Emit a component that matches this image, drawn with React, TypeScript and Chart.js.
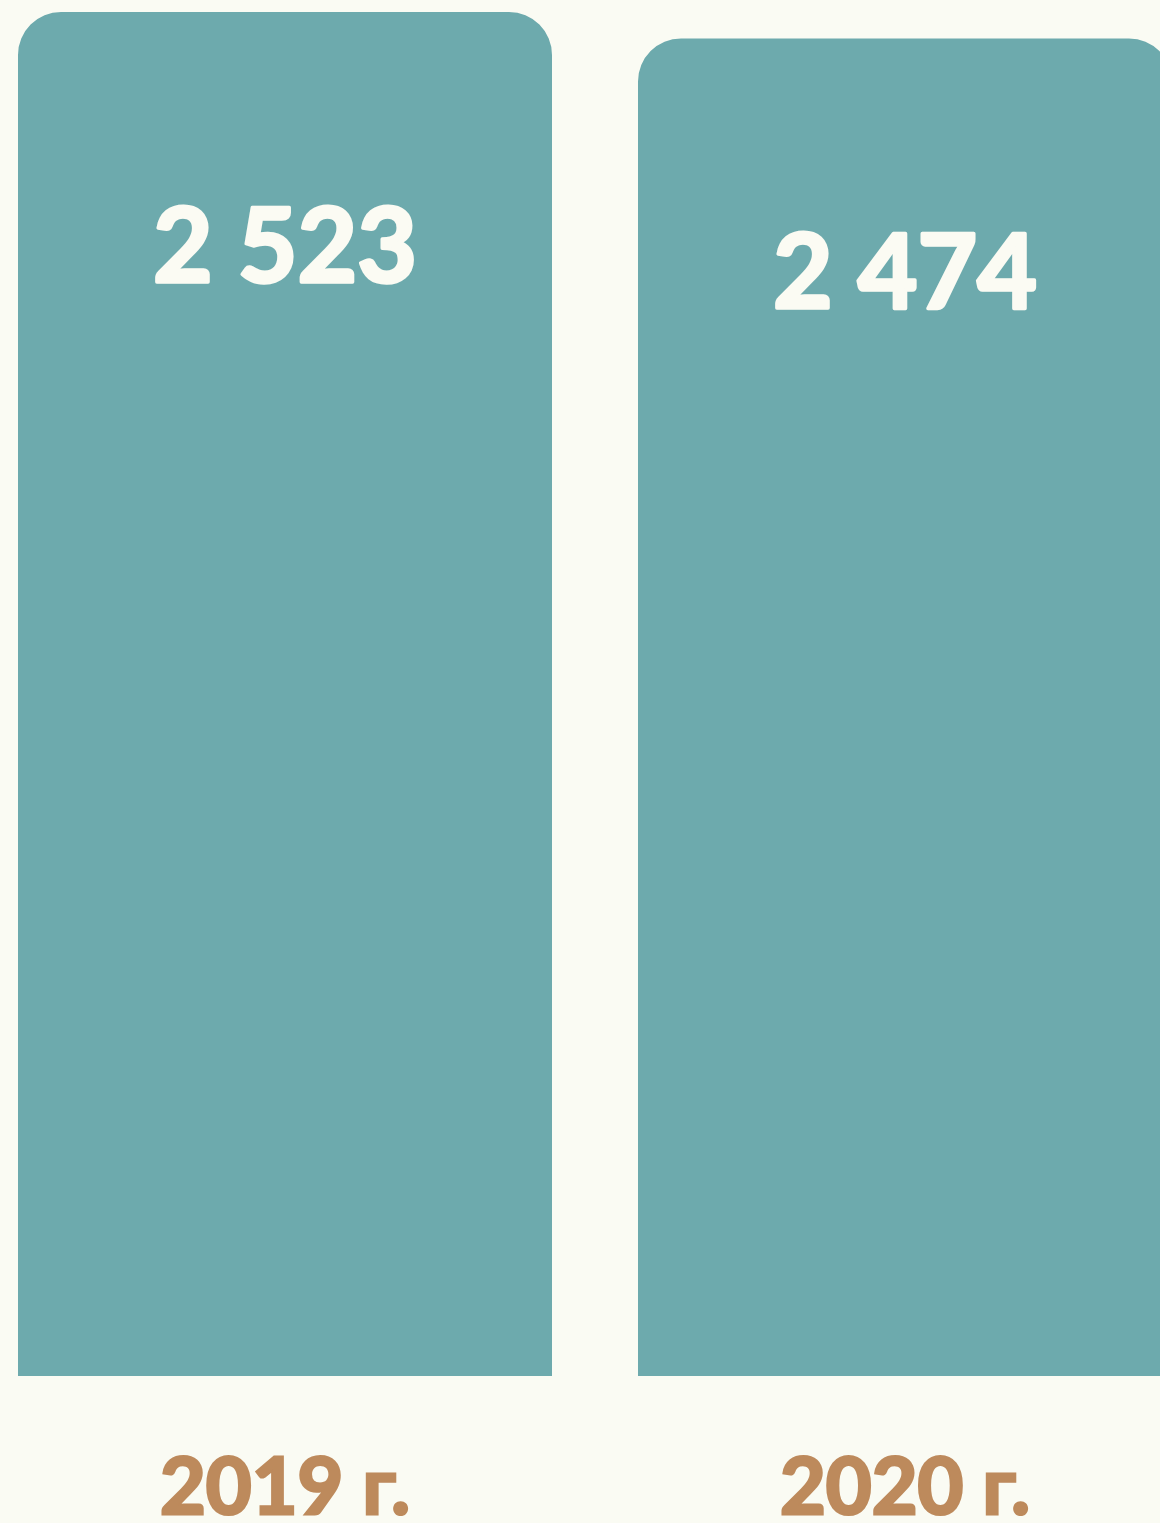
import React, { useEffect, useRef } from "react";
import { Chart, registerables } from "chart.js";

Chart.register(...registerables);

const categories: string[] = ["2019 г.", "2020 г."];
const values: number[] = [2523, 2474];
const valueLabels: string[] = ["2 523", "2 474"];
const yMin = 0;
const yMax = 2545;

const BG = "#fafbf3";
const BAR = "#6daaad";
const BROWN = "#bd8a5c";
const WHITE = "#fbfbf3";

const valueLabelPlugin = {
  id: "valueLabels",
  afterDatasetsDraw(chart: any) {
    const ctx = chart.ctx;
    const meta = chart.getDatasetMeta(0);
    ctx.save();
    ctx.font = "bold 103px Lato";
    ctx.fillStyle = WHITE;
    ctx.strokeStyle = WHITE;
    ctx.lineWidth = 3.5;
    ctx.lineJoin = "round";
    ctx.textAlign = "center";
    ctx.textBaseline = "alphabetic";
    meta.data.forEach((bar: any, i: number) => {
      ctx.fillText(valueLabels[i], bar.x, bar.y + 270);
      ctx.strokeText(valueLabels[i], bar.x, bar.y + 270);
    });
    ctx.restore();
  },
};

export default function App() {
  const ref = useRef<HTMLCanvasElement | null>(null);

  useEffect(() => {
    if (!ref.current) return;
    const chart = new Chart(ref.current, {
      type: "bar",
      data: {
        labels: categories,
        datasets: [
          {
            data: values,
            backgroundColor: BAR,
            borderWidth: 0,
            borderRadius: { topLeft: 43, topRight: 43, bottomLeft: 0, bottomRight: 0 },
            borderSkipped: "bottom",
            categoryPercentage: 1,
            barPercentage: 0.8613,
          },
        ],
      },
      options: {
        animation: false,
        responsive: false,
        maintainAspectRatio: false,
        layout: { padding: 0 },
        plugins: {
          legend: { display: false },
          tooltip: { enabled: false },
          title: { display: false },
        },
        scales: {
          y: {
            display: false,
            min: yMin,
            max: yMax,
          },
          x: {
            grid: { display: false, drawTicks: false },
            border: { display: false },
            ticks: {
              color: BROWN,
              textStrokeColor: BROWN,
              textStrokeWidth: 3,
              font: { family: "Lato", size: 79, weight: "bold" },
              padding: 65,
              maxRotation: 0,
              autoSkip: false,
            },
            afterFit(scale: any) {
              scale.height = 147;
            },
          },
        },
      },
      plugins: [valueLabelPlugin],
    });
    return () => chart.destroy();
  }, []);

  return (
    <div
      style={{
        position: "fixed",
        left: 0,
        top: 0,
        width: 1160,
        height: 1523,
        overflow: "hidden",
        background: BG,
      }}
    >
      <canvas
        ref={ref}
        width={1240}
        height={1523}
        style={{ position: "absolute", left: -25, top: 0, width: 1240, height: 1523 }}
      />
    </div>
  );
}
